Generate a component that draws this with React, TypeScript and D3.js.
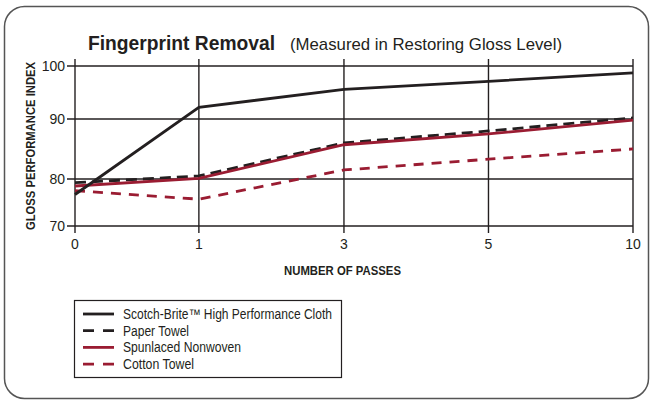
import React, { useEffect, useRef } from "react";
import * as d3 from "d3";

// passes on the x axis, gloss index on the y axis
const passes = [0, 1, 3, 5, 10];
const yTicks = [70, 80, 90, 100];

const scotchBrite = [76.7, 92.2, 95.6, 97.1, 98.7];
const paperTowel = [79.2, 80.5, 86.0, 88.0, 90.2];
const spunlaced = [78.5, 80.1, 85.7, 87.5, 89.8];
const cottonTowel = [77.5, 75.7, 81.5, 83.3, 85.0];

const seriesNames = [
  "Scotch-Brite\u2122 High Performance Cloth",
  "Paper Towel",
  "Spunlaced Nonwoven",
  "Cotton Towel",
];
// widths of the condensed type in the original
const legendWidths = [209, 66, 118, 71];

const BLACK = "#231f20";
const RED = "#9a1c32";
const FONT = "'Liberation Sans', Arial, sans-serif";

export default function App() {
  const ref = useRef<SVGSVGElement>(null);

  useEffect(() => {
    const svg = d3.select(ref.current);
    svg.selectAll("*").remove();

    const left = 75, right = 633, top = 66, bottom = 226;
    const w = right - left, h = bottom - top;

    // the original chart spaces its ticks unevenly, so use piecewise scales
    const x = d3.scaleLinear()
      .domain(passes)
      .range([0, 0.222, 0.482, 0.741, 1].map((f) => left + f * w));
    const y = d3.scaleLinear()
      .domain(yTicks)
      .range([1, 0.706, 0.331, 0].map((f) => top + f * h));

    // outer frame
    svg.append("rect")
      .attr("x", 4.5).attr("y", 6.5)
      .attr("width", 644).attr("height", 392)
      .attr("rx", 20)
      .attr("fill", "white")
      .attr("stroke", "#555").attr("stroke-width", 1.5);

    // title
    svg.append("text")
      .attr("x", 88).attr("y", 50)
      .attr("font-family", FONT).attr("font-size", 21).attr("font-weight", "bold")
      .attr("textLength", 187).attr("lengthAdjust", "spacingAndGlyphs")
      .attr("fill", BLACK)
      .text("Fingerprint Removal");
    svg.append("text")
      .attr("x", 290).attr("y", 50)
      .attr("font-family", FONT).attr("font-size", 17)
      .attr("textLength", 272).attr("lengthAdjust", "spacingAndGlyphs")
      .attr("fill", BLACK)
      .text("(Measured in Restoring Gloss Level)");

    const g = svg.append("g");

    // horizontal grid
    g.selectAll(".hgrid")
      .data(yTicks)
      .join("line")
      .attr("x1", left - 8).attr("x2", right)
      .attr("y1", (d) => y(d)).attr("y2", (d) => y(d))
      .attr("stroke", BLACK).attr("stroke-width", 1.4);

    // vertical grid
    g.selectAll(".vgrid")
      .data(passes)
      .join("line")
      .attr("x1", (d) => x(d)).attr("x2", (d) => x(d))
      .attr("y1", top - 7).attr("y2", bottom + 7)
      .attr("stroke", BLACK).attr("stroke-width", 1.4);

    // y tick labels
    g.selectAll(".ylab")
      .data(yTicks)
      .join("text")
      .attr("x", left - 10).attr("y", (d) => y(d) + 5)
      .attr("text-anchor", "end")
      .attr("font-family", FONT).attr("font-size", 14)
      .attr("fill", BLACK)
      .text((d) => d);

    // x tick labels
    g.selectAll(".xlab")
      .data(passes)
      .join("text")
      .attr("x", (d) => x(d)).attr("y", bottom + 23)
      .attr("text-anchor", "middle")
      .attr("font-family", FONT).attr("font-size", 14)
      .attr("fill", BLACK)
      .text((d) => d);

    // axis titles
    svg.append("text")
      .attr("transform", `translate(${35 - 84}, 0)`)
      .attr("transform", `translate(35, 230) rotate(-90)`)
      .attr("x", 0).attr("y", 0)
      .attr("font-family", FONT).attr("font-size", 12.5).attr("font-weight", "bold")
      .attr("textLength", 168).attr("lengthAdjust", "spacingAndGlyphs")
      .attr("fill", BLACK)
      .text("GLOSS PERFORMANCE INDEX");
    svg.append("text")
      .attr("x", 284).attr("y", 275)
      .attr("font-family", FONT).attr("font-size", 13).attr("font-weight", "bold")
      .attr("textLength", 117).attr("lengthAdjust", "spacingAndGlyphs")
      .attr("fill", BLACK)
      .text("NUMBER OF PASSES");

    const series = [
      { name: seriesNames[0], values: scotchBrite, color: BLACK, dash: null, width: legendWidths[0] },
      { name: seriesNames[1], values: paperTowel, color: BLACK, dash: "11,6", width: legendWidths[1] },
      { name: seriesNames[2], values: spunlaced, color: RED, dash: null, width: legendWidths[2] },
      { name: seriesNames[3], values: cottonTowel, color: RED, dash: "10,8", width: legendWidths[3] },
    ];

    const line = d3.line<number>()
      .x((d, i) => x(passes[i]))
      .y((d) => y(d));

    // draw from back to front like the original
    [3, 1, 2, 0].forEach((k) => {
      const s = series[k];
      g.append("path")
        .attr("d", line(s.values))
        .attr("fill", "none")
        .attr("stroke", s.color)
        .attr("stroke-width", 2.8)
        .attr("stroke-dasharray", s.dash)
        .attr("stroke-linejoin", "miter");
    });

    // legend
    const lg = svg.append("g");
    lg.append("rect")
      .attr("x", 74.5).attr("y", 300.5)
      .attr("width", 267).attr("height", 77)
      .attr("fill", "white")
      .attr("stroke", BLACK).attr("stroke-width", 1.2);

    const rows = lg.selectAll(".row")
      .data(series)
      .join("g")
      .attr("transform", (d, i) => `translate(0, ${314 + i * 16.7})`);
    rows.append("line")
      .attr("x1", 83).attr("x2", 114)
      .attr("stroke", (d) => d.color)
      .attr("stroke-width", 2.8)
      .attr("stroke-dasharray", (d) => (d.dash ? "11,9" : null));
    rows.append("text")
      .attr("x", 123).attr("y", 5)
      .attr("font-family", FONT).attr("font-size", 14)
      .attr("textLength", (d) => d.width).attr("lengthAdjust", "spacingAndGlyphs")
      .attr("fill", BLACK)
      .text((d) => d.name);
  }, []);

  return <svg ref={ref} width={653} height={404} style={{ position: "absolute", left: 0, top: 0 }} />;
}
